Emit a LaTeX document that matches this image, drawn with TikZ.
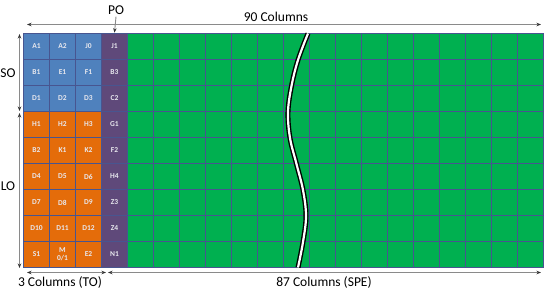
\documentclass[tikz,border=0pt]{standalone}
\usepackage{fontspec}
\setmainfont{Carlito}
\usetikzlibrary{arrows.meta}
\definecolor{cblue}{HTML}{4F81BD}
\definecolor{corange}{HTML}{E46C0A}
\definecolor{cpurple}{HTML}{5F497A}
\definecolor{cgreen}{HTML}{00B050}
\definecolor{gridc}{HTML}{485590}
\definecolor{celltext}{HTML}{E8E8EE}
\definecolor{dimc}{HTML}{8A8A8A}
\definecolor{tipc}{HTML}{303030}
\begin{document}
\begin{tikzpicture}[x=1pt,y=-1pt,
  cell/.style={draw=gridc, line width=1.6pt, minimum width=26pt, minimum height=26pt,
    inner sep=0pt, text=celltext, font=\bfseries\fontsize{7.5}{8}\selectfont, align=center},
  bluec/.style={cell, fill=cblue},
  orangec/.style={cell, fill=corange},
  purplec/.style={cell, fill=cpurple},
  greenc/.style={cell, fill=cgreen},
  dimline/.style={draw=dimc, line width=0.9pt,
    {Stealth[length=4.5pt,width=3.5pt,color=tipc]}-{Stealth[length=4.5pt,width=3.5pt,color=tipc]}},
  oneway/.style={draw=dimc, line width=0.9pt, -{Stealth[length=4.5pt,width=3.5pt,color=tipc]}},
  lab/.style={font=\fontsize{13.5}{14}\selectfont, inner sep=0pt}]
\useasboundingbox (0,0) rectangle (550,293);

% green cells
\foreach \j in {0,...,8}{
  \foreach \i in {4,...,19}{
    \node[greenc] (c-\j-\i) at ({36.5+26*\i},{46.5+26*\j}) {};
  }
}
% labelled cells
\foreach \j/\a/\b/\c/\d/\s in {0/A1/A2/J0/J1/bluec, 1/B1/E1/F1/B3/bluec, 2/D1/D2/D3/C2/bluec,
    3/H1/H2/H3/G1/orangec, 4/B2/K1/K2/F2/orangec, 5/D4/D5/D6/H4/orangec,
    6/D7/D8/D9/Z3/orangec, 7/D10/D11/D12/Z4/orangec, 8/S1/{M\\0/1}/E2/N1/orangec}{
  \node[\s] (c-\j-0) at (36.5,{46.5+26*\j}) {\a};
  \node[\s] (c-\j-1) at (62.5,{46.5+26*\j}) {\b};
  \node[\s] (c-\j-2) at (88.5,{46.5+26*\j}) {\c};
  \node[purplec] (c-\j-3) at (114.5,{46.5+26*\j}) {\d};
}

% break line
\draw[black, line width=5pt] plot[smooth, tension=0.6] coordinates
  {(308,33.5) (298,60) (291.5,86) (288,112) (290,138) (296.5,164) (303,190) (306,216) (303,242) (298,267.5)};
\draw[white, line width=2.2pt] plot[smooth, tension=0.6] coordinates
  {(308,33.5) (298,60) (291.5,86) (288,112) (290,138) (296.5,164) (303,190) (306,216) (303,242) (298,267.5)};

% labels
\node[lab] (po) at (116,10) {PO};
\node[lab] (ninety) at (276,17) {90 Columns};
\node[lab] (so) at (8,73) {SO};
\node[lab] (lo) at (8,186) {LO};
\node[lab] (to) at (60,282) {3 Columns (TO)};
\node[lab] (spe) at (324,282) {87 Columns (SPE)};

% dimension arrow end points
\coordinate (tl) at (27,24.5);
\coordinate (tr) at (541,24.5);
\coordinate (sot) at (19.5,34);
\coordinate (sob) at (19.5,111);
\coordinate (lot) at (19.5,113);
\coordinate (lob) at (19.5,268);
\coordinate (bl) at (27,272.5);
\coordinate (bm) at (106,272.5);
\coordinate (bm2) at (108,272.5);
\coordinate (br) at (541,272.5);

\draw[dimline] (tl) -- (tr);
\draw[oneway] (po.south) ++(0,2) -- (c-0-3.north);
\draw[dimline] (sot) -- (sob);
\draw[dimline] (lot) -- (lob);
\draw[dimline] (bl) -- (bm);
\draw[dimline] (bm2) -- (br);
\end{tikzpicture}
\end{document}
